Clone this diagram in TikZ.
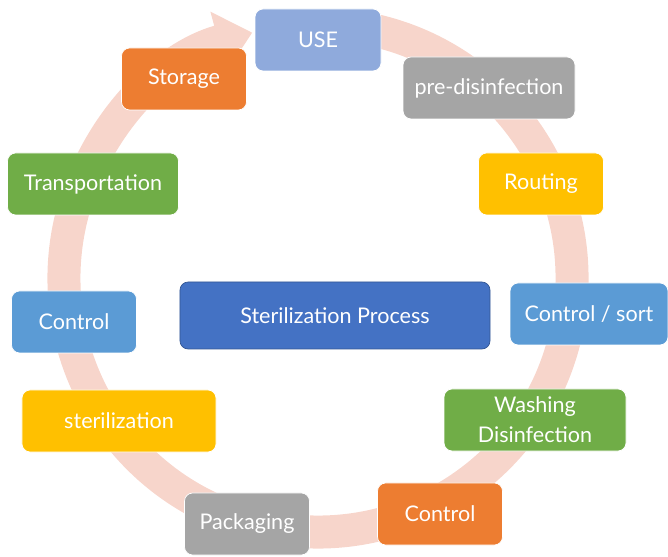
\documentclass[tikz,border=0pt]{standalone}
\usepackage{fontspec}
\setmainfont{Lato}
\usetikzlibrary{arrows.meta}
\definecolor{ringc}{HTML}{F7D5CB}
\definecolor{lblue}{HTML}{8FAADC}
\definecolor{oran}{HTML}{ED7D31}
\definecolor{grey}{HTML}{A5A5A5}
\definecolor{gold}{HTML}{FFC000}
\definecolor{gren}{HTML}{70AD47}
\definecolor{mblue}{HTML}{5B9BD5}
\definecolor{dblue}{HTML}{4472C4}
\begin{document}
\begin{tikzpicture}[x=0.03cm,y=0.03cm,line join=round,
	box/.style={draw=white,line width=0.6pt,rounded corners=7pt,minimum height=1.86cm,
		inner sep=0pt,text=white,align=center,font=\fontsize{18.4}{25.5}\selectfont}]
		\useasboundingbox (0,0) rectangle (668,557);
		\coordinate (O) at (318,279);
		% cycle arrow
		\draw[ringc,line width=0.99cm,-{Triangle[width=1.8cm,length=1.05cm]}]
			([shift={(78:254)}]O) arc[start angle=78,end angle=-255,radius=254];
		% steps
		\node[box,fill=lblue,minimum width=3.78cm] (use) at (318,517) {USE};
		\node[box,fill=oran,minimum width=3.75cm] (storage) at (184,478) {Storage};
		\node[box,fill=grey,minimum width=5.16cm] (predis) at (489,469) {pre-disinfection};
		\node[box,fill=gold,minimum width=3.75cm] (routing) at (541,373) {Routing};
		\node[box,fill=gren,minimum width=5.13cm] (transp) at (93,373) {Transportation};
		\node[box,fill=mblue,minimum width=3.75cm] (ctrlL) at (74,235) {Control};
		\node[box,fill=mblue,minimum width=4.74cm] (sort) at (589,243) {Control / sort};
		\node[box,fill=gold,minimum width=5.82cm] (steril) at (119,136) {sterilization};
		\node[box,fill=gren,minimum width=5.46cm] (wash) at (535,137) {Washing\\Disinfection};
		\node[box,fill=grey,minimum width=3.75cm] (pack) at (247,33) {Packaging};
		\node[box,fill=oran,minimum width=3.75cm] (ctrlB) at (440,43) {Control};
		% centre
		\node[box,draw=dblue!75!black,fill=dblue,minimum width=9.3cm,minimum height=2.01cm] (proc) at (335,241.5) {Sterilization Process};
	\end{tikzpicture}
\end{document}
